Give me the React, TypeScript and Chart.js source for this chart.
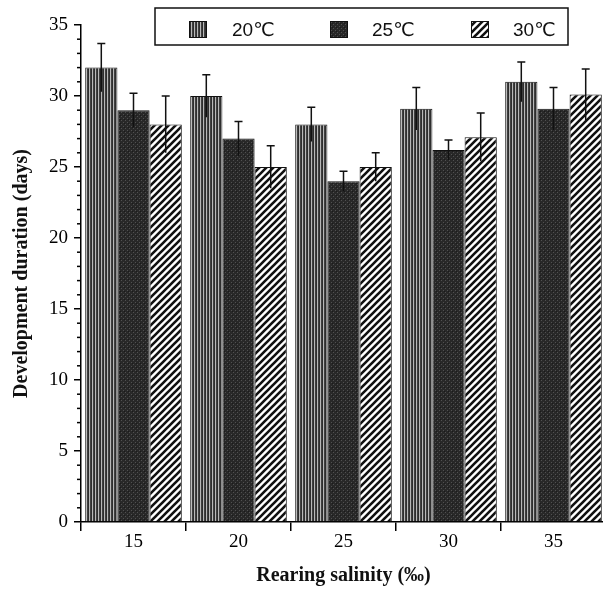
import React, { useEffect, useRef } from 'react';
import { Chart, registerables } from 'chart.js';
Chart.register(...registerables);

// ---- data ----
const categories = ['15', '20', '25', '30', '35'];
const seriesLabels = ['20℃', '25℃', '30℃'];
const means20 = [32, 30, 28, 29.1, 31];
const means25 = [29, 27, 24, 26.2, 29.1];
const means30 = [28, 25, 25, 27.1, 30.1];
const err20 = [1.7, 1.5, 1.2, 1.5, 1.4];
const err25 = [1.2, 1.2, 0.7, 0.7, 1.5];
const err30 = [2.0, 1.5, 1.0, 1.7, 1.8];
const yMin = 0;
const yMax = 35;
const yMajorStep = 5;
const yMinorStep = 1;
const xTitleText = 'Rearing salinity (‰)';
const yTitleText = 'Development duration (days)';

const SERIF = "'Liberation Serif', 'Times New Roman', serif";
const SANS = "'Liberation Sans', Arial, 'DejaVu Sans', sans-serif";

function makePattern(kind: string): CanvasPattern {
  const c = document.createElement('canvas');
  const ctx = c.getContext('2d')!;
  if (kind === 'v') {
    c.width = 3; c.height = 4;
    const cols = ['#404040', '#2e2e2e', '#b8b8b8'];
    cols.forEach((col, i) => { ctx.fillStyle = col; ctx.fillRect(i, 0, 1, 4); });
  } else if (kind === 'd') {
    c.width = 4; c.height = 4;
    ctx.fillStyle = '#282828'; ctx.fillRect(0, 0, 4, 4);
    ctx.fillStyle = '#505050'; ctx.fillRect(1, 0, 1, 1); ctx.fillRect(3, 2, 1, 1);
    ctx.fillStyle = '#1a1a1a'; ctx.fillRect(0, 3, 1, 1);
  } else {
    c.width = 7; c.height = 7;
    ctx.fillStyle = '#fff'; ctx.fillRect(0, 0, 7, 7);
    ctx.strokeStyle = '#111'; ctx.lineWidth = 2.6;
    ctx.beginPath();
    ctx.moveTo(-1, 8); ctx.lineTo(8, -1);
    ctx.moveTo(-5, 5); ctx.lineTo(5, -5);
    ctx.moveTo(2, 12); ctx.lineTo(12, 2);
    ctx.stroke();
  }
  return ctx.createPattern(c, 'repeat')!;
}

export default function App() {
  const ref = useRef<HTMLCanvasElement>(null);
  useEffect(() => {
    const canvas = ref.current!;
    const patterns = [makePattern('v'), makePattern('d'), makePattern('h')];
    const errs = [err20, err25, err30];
    const means = [means20, means25, means30];

    const errorBars = {
      id: 'errorBars',
      afterDatasetsDraw(chart: any) {
        const ctx = chart.ctx;
        const ys = chart.scales.y;
        ctx.save();
        ctx.strokeStyle = '#111';
        ctx.lineWidth = 1.5;
        means.forEach((arr, i) => {
          const meta = chart.getDatasetMeta(i);
          meta.data.forEach((el: any, j: number) => {
            const x = el.x;
            const top = ys.getPixelForValue(arr[j] + errs[i][j]);
            const bot = ys.getPixelForValue(arr[j] - errs[i][j]);
            ctx.beginPath();
            ctx.moveTo(x, bot); ctx.lineTo(x, top);
            ctx.moveTo(x - 4, top); ctx.lineTo(x + 4, top);
            ctx.stroke();
          });
        });
        ctx.restore();
      },
    };

    const minorTicks = {
      id: 'minorTicks',
      afterDraw(chart: any) {
        const ctx = chart.ctx;
        const ys = chart.scales.y;
        const x0 = chart.chartArea.left;
        ctx.save();
        ctx.strokeStyle = '#000';
        ctx.lineWidth = 1.5;
        for (let v = yMin; v <= yMax; v += yMinorStep) {
          if (v % yMajorStep === 0) continue;
          const y = ys.getPixelForValue(v);
          ctx.beginPath();
          ctx.moveTo(x0 - 4, y); ctx.lineTo(x0, y);
          ctx.stroke();
        }
        ctx.restore();
      },
    };

    const legendBox = {
      id: 'legendBox',
      afterDraw(chart: any) {
        const ctx = chart.ctx;
        ctx.save();
        ctx.fillStyle = '#fff';
        ctx.fillRect(155, 8, 413, 37);
        ctx.strokeStyle = '#111';
        ctx.lineWidth = 1.5;
        ctx.strokeRect(155, 8, 413, 37);
        const sw = [189, 330, 471];
        const tx = [232, 372, 513];
        ctx.font = `19px ${SANS}`;
        ctx.textBaseline = 'middle';
        ctx.textAlign = 'left';
        seriesLabels.forEach((lab, i) => {
          ctx.fillStyle = patterns[i];
          ctx.fillRect(sw[i], 21, 18, 17);
          ctx.lineWidth = 1;
          ctx.strokeRect(sw[i] + 0.5, 21.5, 17, 16);
          ctx.fillStyle = '#111';
          ctx.fillText(lab, tx[i], 31);
        });
        ctx.restore();
      },
    };

    const chart = new Chart(canvas, {
      type: 'bar',
      data: {
        labels: categories,
        datasets: means.map((arr, i) => ({
          label: seriesLabels[i],
          data: arr,
          backgroundColor: patterns[i],
          borderColor: '#111',
          borderWidth: 1,
          categoryPercentage: 0.92,
          barPercentage: 1,
        })),
      },
      options: {
        responsive: false,
        animation: false,
        devicePixelRatio: 1,
        layout: { padding: { top: 25, right: 2, left: 0, bottom: 0 } },
        plugins: { legend: { display: false }, tooltip: { enabled: false } },
        scales: {
          x: {
            grid: { display: true, drawOnChartArea: false, drawTicks: true, tickLength: 9, color: '#000', lineWidth: 1.5, offset: true },
            border: { display: true, color: '#000', width: 1.5 },
            ticks: { color: '#000', font: { family: SERIF, size: 19 }, padding: 0, maxRotation: 0 },
            title: { display: true, text: xTitleText, color: '#111', font: { family: SERIF, size: 20, weight: 'bold' }, padding: { top: 0, bottom: 1 } },
            afterFit: (s: any) => { s.height = 67; },
          },
          y: {
            min: yMin,
            max: yMax,
            ticks: { stepSize: yMajorStep, color: '#000', font: { family: SERIF, size: 19 }, padding: 6 },
            grid: { display: true, drawOnChartArea: false, drawTicks: true, tickLength: 7, color: '#000', lineWidth: 1.5 },
            border: { display: true, color: '#000', width: 1.5 },
            title: { display: true, text: yTitleText, color: '#111', font: { family: SERIF, size: 20, weight: 'bold' }, padding: { top: 10, bottom: 0 } },
            afterFit: (s: any) => { s.width = 81; },
          },
        },
      } as any,
      plugins: [errorBars, minorTicks, legendBox],
    });
    return () => chart.destroy();
  }, []);
  return (
    <div style={{ position: 'fixed', left: 0, top: 0, width: 603, height: 589, overflow: 'hidden', background: '#fff' }}>
      <canvas ref={ref} width={608} height={589} style={{ display: 'block' }} />
    </div>
  );
}
